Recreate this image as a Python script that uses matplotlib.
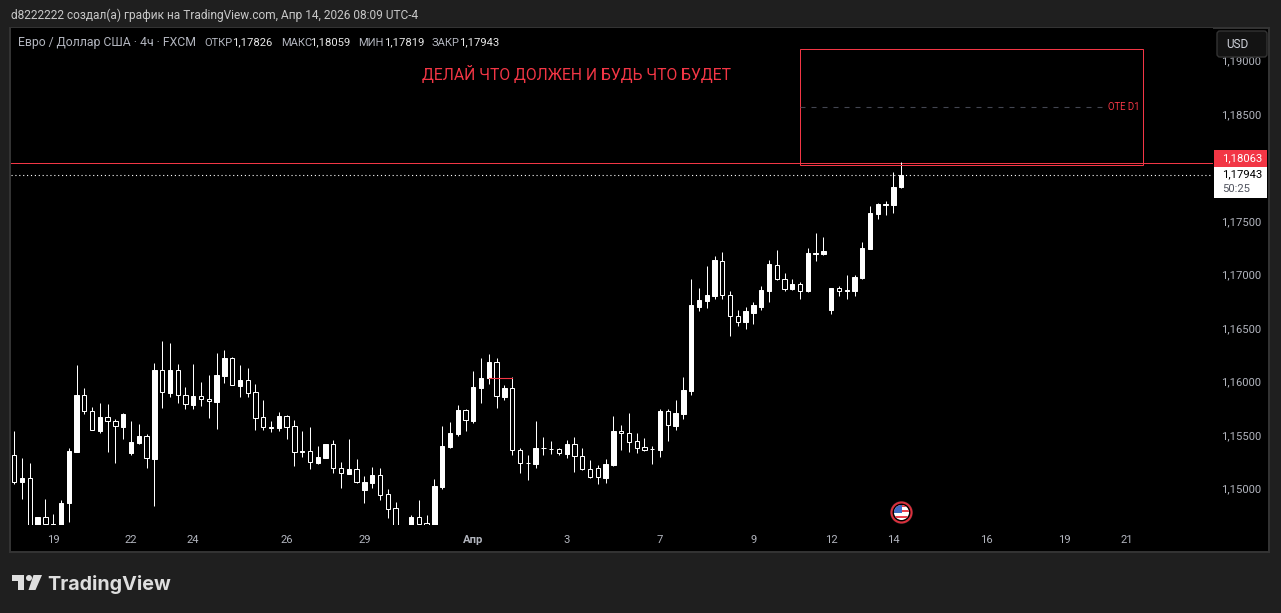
import numpy as np
import matplotlib
matplotlib.use("Agg")
import matplotlib.pyplot as plt
from matplotlib.patches import Rectangle, Circle, Polygon, FancyBboxPatch
from matplotlib.transforms import ScaledTranslation

plt.rcParams['font.family'] = ['Roboto', 'DejaVu Sans']

# 4h EURUSD candles
opens = [1.15325,1.15069,1.15109,1.14594,1.14744,1.14685,1.14625,1.14872,1.15356,1.15886,
         1.15737,1.15552,1.15680,1.15643,1.15590,1.15346,1.15440,1.15502,1.15290,1.16120,
         1.15908,1.16120,1.15886,1.15796,1.15880,1.15849,1.15824,1.16067,1.16233,1.15974,
         1.16030,1.15918,1.15680,1.15581,1.15581,1.15690,1.15596,1.15356,1.15362,1.15253,
         1.15300,1.15428,1.15203,1.15150,1.15193,1.15000,1.15066,1.15137,1.14959,1.14828,
         1.14594,1.14657,1.14744,1.14688,1.14625,1.15028,1.15403,1.15524,1.15746,1.15646,
         1.15955,1.16042,1.16195,1.15871,1.15952,1.15371,1.15247,1.15243,1.15387,1.15378,
         1.15381,1.15337,1.15428,1.15315,1.15193,1.15203,1.15110,1.15234,1.15552,1.15531,
         1.15456,1.15399,1.15378,1.15375,1.15737,1.15599,1.15712,1.15927,1.16713,1.16760,
         1.16807,1.17141,1.16823,1.16626,1.16564,1.16657,1.16713,1.16854,1.17104,1.16972,
         1.16873,1.16919,1.16854,1.17203,1.17200,1.16685,1.16882,1.16857,1.16854,1.16976,
         1.17247,1.17575,1.17662,1.17659,1.17826]
closes = [1.15069,1.15109,1.14501,1.14747,1.14685,1.14657,1.14878,1.15365,1.15889,1.15733,
          1.15556,1.15684,1.15640,1.15593,1.15712,1.15449,1.15506,1.15293,1.16124,1.15911,
          1.16124,1.15883,1.15799,1.15880,1.15846,1.15827,1.16077,1.16236,1.15980,1.16030,
          1.15908,1.15674,1.15584,1.15587,1.15693,1.15590,1.15350,1.15362,1.15256,1.15306,
          1.15428,1.15200,1.15153,1.15193,1.15075,1.15075,1.15140,1.14956,1.14825,1.14625,
          1.14501,1.14747,1.14685,1.14657,1.15037,1.15412,1.15534,1.15749,1.15649,1.15964,
          1.16049,1.16198,1.15874,1.15955,1.15368,1.15247,1.15253,1.15393,1.15393,1.15384,
          1.15340,1.15431,1.15312,1.15190,1.15122,1.15115,1.15243,1.15552,1.15527,1.15449,
          1.15393,1.15368,1.15384,1.15740,1.15602,1.15721,1.15936,1.16723,1.16770,1.16816,
          1.17144,1.16820,1.16623,1.16567,1.16667,1.16723,1.16863,1.17107,1.16969,1.16876,
          1.16919,1.16854,1.17210,1.17210,1.17228,1.16882,1.16854,1.16863,1.16985,1.17256,
          1.17584,1.17669,1.17669,1.17828,1.17943]
highs = [1.15552,1.15296,1.15250,1.14747,1.14916,1.14775,1.14906,1.15390,1.16170,1.15955,
         1.15774,1.15815,1.15802,1.15662,1.15718,1.15646,1.15618,1.15521,1.16189,1.16395,
         1.16376,1.16180,1.15964,1.16180,1.16011,1.16077,1.16283,1.16311,1.16245,1.16170,
         1.16142,1.15992,1.15843,1.15646,1.15730,1.15702,1.15655,1.15552,1.15590,1.15412,
         1.15431,1.15468,1.15262,1.15478,1.15290,1.15131,1.15215,1.15206,1.15009,1.14888,
         1.14625,1.14766,1.14906,1.14766,1.15103,1.15599,1.15637,1.15796,1.15758,1.16114,
         1.16236,1.16273,1.16236,1.15983,1.16058,1.15393,1.15328,1.15646,1.15496,1.15459,
         1.15393,1.15468,1.15496,1.15393,1.15281,1.15234,1.15290,1.15693,1.15609,1.15721,
         1.15534,1.15487,1.15412,1.15758,1.15758,1.15843,1.16058,1.16966,1.16882,1.17088,
         1.17182,1.17219,1.16854,1.16676,1.16713,1.16751,1.16901,1.17144,1.17238,1.17022,
         1.16966,1.16938,1.17256,1.17397,1.17359,1.16882,1.16901,1.17004,1.17004,1.17313,
         1.17650,1.17678,1.17697,1.17968,1.18059]
lows = [1.15056,1.14916,1.14438,1.14563,1.14672,1.14625,1.14563,1.14700,1.15356,1.15712,
        1.15556,1.15534,1.15356,1.15253,1.15478,1.15328,1.15431,1.15206,1.14850,1.15768,
        1.15871,1.15815,1.15758,1.15758,1.15786,1.15674,1.15571,1.16002,1.15980,1.15871,
        1.15871,1.15562,1.15562,1.15543,1.15552,1.15478,1.15225,1.15309,1.15197,1.15243,
        1.15300,1.15159,1.15019,1.15150,1.15066,1.14878,1.15019,1.14906,1.14738,1.14563,
        1.14469,1.14625,1.14672,1.14625,1.14579,1.15009,1.15393,1.15506,1.15552,1.15627,
        1.15815,1.15992,1.15768,1.15843,1.15328,1.15159,1.15094,1.15206,1.15328,1.15337,
        1.15328,1.15300,1.15169,1.15187,1.15112,1.15056,1.15066,1.15225,1.15375,1.15356,
        1.15346,1.15365,1.15243,1.15309,1.15459,1.15562,1.15665,1.15889,1.16667,1.16695,
        1.16779,1.16779,1.16433,1.16535,1.16507,1.16545,1.16685,1.16751,1.16957,1.16854,
        1.16863,1.16779,1.16845,1.17135,1.17191,1.16639,1.16807,1.16779,1.16807,1.16966,
        1.17247,1.17528,1.17565,1.17584,1.17819]

price_ticks = [1.15, 1.155, 1.16, 1.165, 1.17, 1.175, 1.185, 1.19]
price_labels = ['1,15000', '1,15500', '1,16000', '1,16500', '1,17000', '1,17500', '1,18500', '1,19000']
time_ticks = [5, 15, 23, 35, 45, 59, 71, 83, 95, 105, 113, 125, 135, 143]
time_labels = ['19', '22', '24', '26', '29', 'Апр', '3', '7', '9', '12', '14', '16', '19', '21']

last_close = 1.17943
level_line = 1.18050
zone_top = 1.19117
zone_bottom = 1.18033
zone_mid = 1.18575
zone_start = 101
zone_end = 145.1
seg_price = 1.16046
seg_start = 61
seg_end = 64

W, H = 1281, 613
RED = '#f23645'
GREY = '#b2b5be'

fig = plt.figure(figsize=(W/100, H/100), dpi=100, facecolor='#1f1f1f')

# pixel space layers for the frame and the overlays
back = fig.add_axes([0, 0, 1, 1], zorder=0)
back.set_xlim(0, W)
back.set_ylim(H, 0)
back.axis('off')
back.add_patch(Rectangle((10, 28), 1258.5, 523.5, fc='black', ec='#333333', lw=1.44))

# main chart, x in bar numbers, y in price
L, R, T, B = 11, 1213, 28, 525
ax = fig.add_axes([L/W, 1-B/H, (R-L)/W, (B-T)/H], zorder=1, facecolor='black')
for s in ax.spines.values():
    s.set_visible(False)
step = 7.78
ax.set_xlim((L-14.3)/step, (R-14.3)/step)
scale = 10700.0
ax.set_ylim(1.15-(B-489.8)/scale, 1.15+(489.8-T)/scale)

o = np.array(opens)
c = np.array(closes)
hi = np.array(highs)
lo = np.array(lows)
x = np.arange(len(o))
up = c >= o

ax.vlines(x, lo, hi, color='white', lw=0.72, zorder=2)
body_w = 0.56
ax.bar(x[up], (c-o)[up], bottom=o[up], width=body_w, color='white', edgecolor='white', lw=0.72, zorder=3)
ax.bar(x[~up], (o-c)[~up], bottom=c[~up], width=body_w, color='black', edgecolor='white', lw=0.72, zorder=3)

ax.plot([seg_start, seg_end], [seg_price, seg_price], color=RED, lw=0.8, zorder=4)
ax.axhline(level_line, color=RED, lw=0.72, zorder=1)
ax.axhline(last_close, color='white', lw=0.8, ls=(0, (1, 2.5)), dash_capstyle='butt', zorder=1)

ax.add_patch(Rectangle((zone_start, zone_bottom), zone_end-zone_start, zone_top-zone_bottom,
                       fc='none', ec=RED, lw=0.72, zorder=2))
ax.plot([zone_start, zone_end-5.0], [zone_mid, zone_mid], color='#434651', lw=0.8, ls=(0, (4.5, 5.4)), zorder=2)
ax.text(zone_end-0.4, zone_mid, 'OTE D1', color=RED, fontsize=6.9, ha='right', va='center', zorder=3)

ax.text(72.3, 1.18883, 'ДЕЛАЙ ЧТО ДОЛЖЕН И БУДЬ ЧТО БУДЕТ', color=RED, fontsize=11.3,
        ha='center', va='center', zorder=3)

ax.yaxis.tick_right()
ax.set_yticks(price_ticks, price_labels)
ax.set_xticks(time_ticks, time_labels)
ax.tick_params(axis='y', length=0, pad=6.0, labelsize=8.1, labelcolor=GREY)
ax.tick_params(axis='x', length=0, pad=7.0, labelsize=8.1, labelcolor=GREY)
up_shift = ScaledTranslation(0, 1.0/72, fig.dpi_scale_trans)
for t in ax.get_yticklabels():
    t.set_transform(t.get_transform() + up_shift)
for t in ax.get_xticklabels():
    if t.get_text() == 'Апр':
        t.set_fontweight('bold')

# overlays in pixels: header, tags, button, event icon, logo
top = fig.add_axes([0, 0, 1, 1], zorder=2)
top.set_xlim(0, W)
top.set_ylim(H, 0)
top.axis('off')
top.patch.set_alpha(0)

top.text(11, 15, 'd8222222 создал(а) график на TradingView.com, Апр 14, 2026 08:09 UTC-4',
         color='#c8c8c8', fontsize=8.54, va='center')
top.text(18, 42.5, 'Евро / Доллар США · 4ч · FXCM', color=GREY, fontsize=8.8, va='center')
names = ['ОТКР', 'МАКС', 'МИН', 'ЗАКР']
vals = ['1,17826', '1,18059', '1,17819', '1,17943']
name_x = [204, 281, 358, 432]
val_x = [233, 311, 385, 460]
for n, v, nx, vx in zip(names, vals, name_x, val_x):
    top.text(nx, 42.5, n, color=GREY, fontsize=8.0, va='center')
    top.text(vx-0.5, 42.5, v, color='#e8e8e8', fontsize=8.1, va='center')

top.add_patch(FancyBboxPatch((1219, 33), 46, 22, boxstyle='round,pad=2,rounding_size=3',
                             fc='#131313', ec='#333333', lw=1.0))
top.text(1226, 44, 'USD', color='#d1d4dc', fontsize=8.5, va='center')

top.add_patch(Rectangle((1214, 150), 53, 17, fc=RED, ec='none'))
top.add_patch(Rectangle((1214, 167), 53, 31, fc='white', ec='none'))
top.text(1222.5, 158, '1,18063', color='white', fontsize=8.1, va='center')
top.text(1222.5, 174.5, '1,17943', color='black', fontsize=8.1, va='center')
top.text(1222, 188.5, '50:25', color='#50535e', fontsize=8.1, va='center')

# flag icon
cx, cy = 901.5, 512.5
top.add_patch(Circle((cx, cy), 11.5, fc='#1a1a1a', ec='none'))
top.add_patch(Circle((cx, cy), 10, fc='black', ec='#d9303d', lw=1.5))
clip = Circle((cx, cy), 7.5, transform=top.transData)
pieces = [Rectangle((cx-8, cy-8), 16, 16, fc='white', ec='none')]
for dy in [-8, -3, 3]:
    pieces.append(Rectangle((cx-8, cy+dy), 16, 2.6, fc='#e8414e', ec='none'))
pieces.append(Rectangle((cx-8, cy-8), 8.5, 8, fc='#3f6cc4', ec='none'))
for p in pieces:
    top.add_patch(p)
    p.set_clip_path(clip)

# logo
logo = '#dedede'
top.add_patch(Polygon([(12, 575), (24, 575), (24, 590), (18, 590), (18, 581), (12, 581)], fc=logo, ec='none'))
top.add_patch(Circle((29, 578), 3, fc=logo, ec='none'))
top.add_patch(Polygon([(33.5, 575), (42, 575), (35.5, 590), (28.5, 590)], fc=logo, ec='none'))
top.text(47, 584.5, 'TradingView', color=logo, fontsize=14.2, fontweight='bold', family=['Inter', 'DejaVu Sans'], va='center')

fig.savefig('out.png', dpi=100, facecolor=fig.get_facecolor())
